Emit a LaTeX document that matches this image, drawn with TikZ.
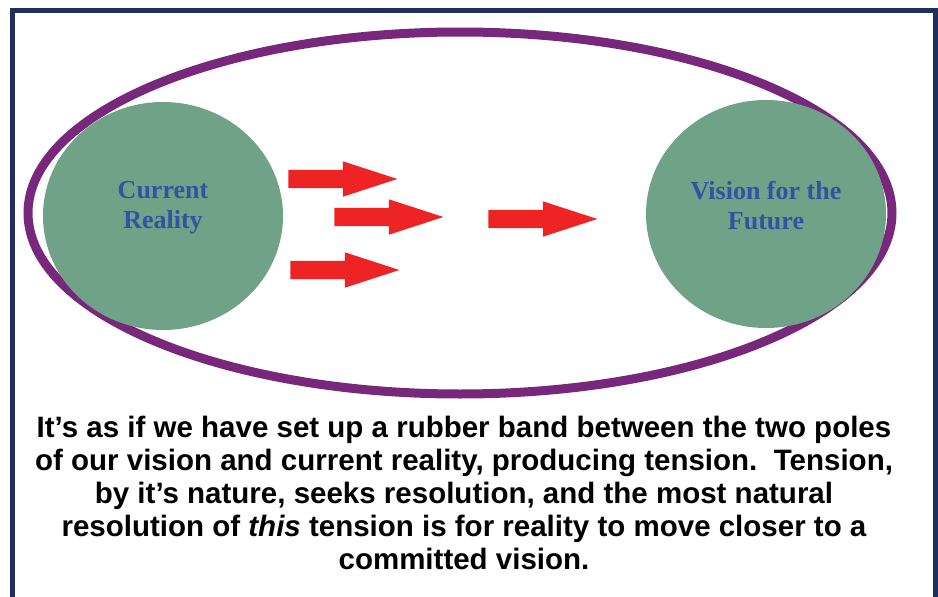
\documentclass[tikz,border=0pt]{standalone}
\usepackage{fontspec}
\setmainfont{Liberation Serif}
\setsansfont{Liberation Sans}
\usetikzlibrary{shapes}
\usetikzlibrary{shapes.arrows}
\usetikzlibrary{positioning}
\definecolor{polegreen}{HTML}{6FA287}
\definecolor{poleblue}{HTML}{3352A4}
\definecolor{bandpurple}{HTML}{77287A}
\definecolor{framenavy}{HTML}{1F2F5E}
\definecolor{pushred}{HTML}{EE2424}
\tikzset{
    pole/.style = {ellipse, fill=polegreen, minimum width=240pt, minimum height=228pt},
    poletext/.style = {align=center, text=poleblue, font=\fontsize{26}{30}\selectfont\bfseries},
    band/.style = {ellipse, draw=bandpurple, line width=9pt, minimum width=864pt, minimum height=362pt},
    push/.style = {single arrow, fill=pushred, inner xsep=0pt, inner ysep=9pt, minimum height=109pt,
                   single arrow head extend=8.5pt, single arrow tip angle=36, anchor=tip},
    note/.style = {align=center, font=\sffamily\bfseries\fontsize{29.5}{33}\selectfont}
}

\begin{document}
\begin{tikzpicture}[x=1pt, y=-1pt]
  \useasboundingbox (0,0) rectangle (938,597);
  \draw[framenavy, line width=5pt] (12.5,10) rectangle (935,640);

  \node[band] (band) at (460,213) {};

  % the two poles
  \node[pole] (reality) at (163,216) {};
  \node[pole] (vision) at (766,214) {};
  \node[poletext] (realitytext) at ([yshift=8pt]reality.center) {Current\\Reality};
  \node[poletext] (visiontext) at ([yshift=8pt]vision.center) {Vision for the\\Future};

  % pull of the band
  \node[push] (push1) at (398,179) {};
  \node[push] (push2) at (444,217) {};
  \node[push] (push3) at (400,270) {};
  \node[push] (push4) at (598,219) {};

  \node[note] (note) at (464,493) {It’s as if we have set up a rubber band between the two poles\\
    of our vision and current reality, producing tension.\ \ Tension,\\
    by it’s nature, seeks resolution, and the most natural\\
    resolution of \textit{this} tension is for reality to move closer to a\\
    committed vision.};
\end{tikzpicture}
\end{document}
